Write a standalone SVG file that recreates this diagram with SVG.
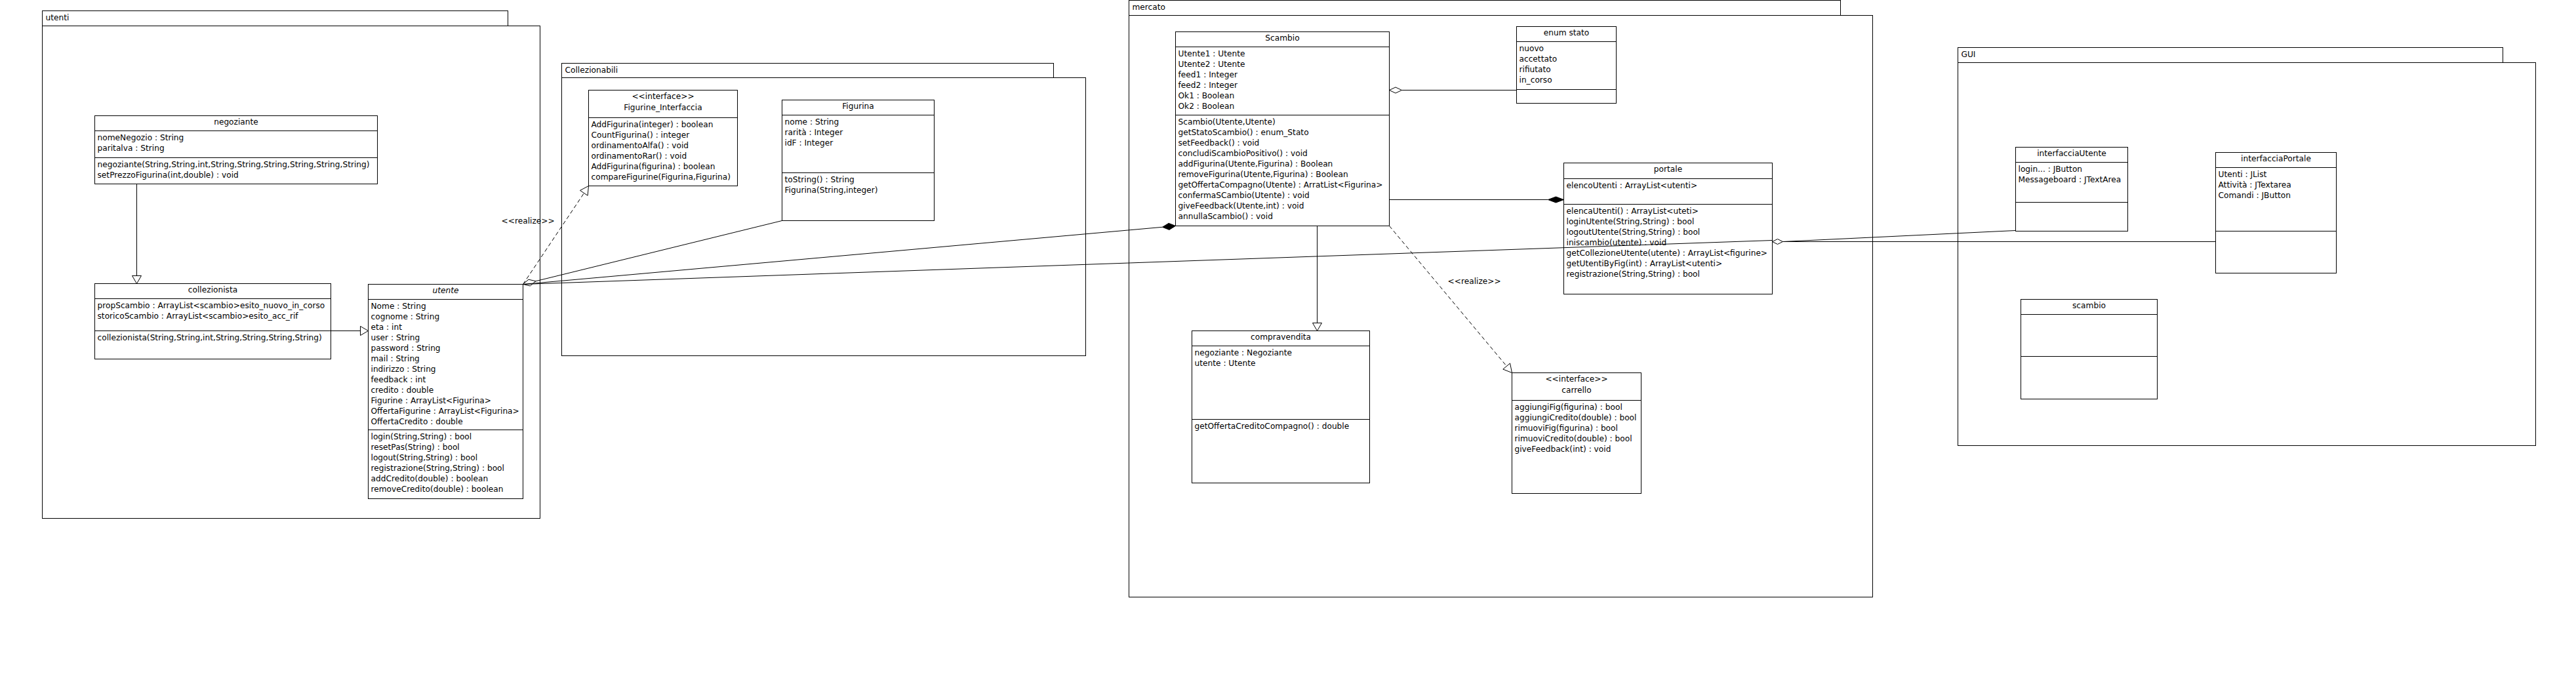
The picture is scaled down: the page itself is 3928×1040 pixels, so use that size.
<svg xmlns="http://www.w3.org/2000/svg" width="3928" height="1040" viewBox="0 0 3928 1040">
<style>
.b{fill:#fff;stroke:#000;stroke-width:1}
.l{stroke:#000;stroke-width:1;fill:none}
.d{stroke:#000;stroke-width:1;fill:none;stroke-dasharray:6 4}
.hd{fill:#fff;stroke:#000;stroke-width:1}
.fd{fill:#000;stroke:#000;stroke-width:1}
text{font-family:"DejaVu Sans","Liberation Sans",sans-serif;font-size:12.2px;fill:#000}
.c{text-anchor:middle}
.i{font-style:italic}
</style>
<rect width="3928" height="1040" fill="#fff"/>
<g transform="translate(0.5,0.5)">
<g id="pkg-utenti"><rect class="b" x="64" y="16" width="710" height="23"/><rect class="b" x="64" y="39" width="759" height="751"/><text x="69" y="30">utenti</text></g>
<g id="pkg-collezionabili"><rect class="b" x="856" y="96" width="750" height="22"/><rect class="b" x="856" y="118" width="799" height="424"/><text x="861" y="110">Collezionabili</text></g>
<g id="pkg-mercato"><rect class="b" x="1721" y="0" width="1085" height="23"/><rect class="b" x="1721" y="23" width="1134" height="887"/><text x="1726" y="14">mercato</text></g>
<g id="pkg-gui"><rect class="b" x="2985" y="72" width="831" height="23"/><rect class="b" x="2985" y="95" width="881" height="584"/><text x="2990" y="86">GUI</text></g>

<g id="negoziante"><rect class="b" x="144" y="176" width="431" height="104"/><path class="l" d="M144 199H575M144 240H575"/>
<text class="c" x="359.5" y="189">negoziante</text>
<text x="148" y="213">nomeNegozio : String</text><text x="148" y="229">paritalva : String</text>
<text x="148" y="254">negoziante(String,String,int,String,String,String,String,String,String)</text><text x="148" y="270">setPrezzoFigurina(int,double) : void</text></g>

<g id="collezionista"><rect class="b" x="144" y="432" width="360" height="115"/><path class="l" d="M144 455H504M144 504H504"/>
<text class="c" x="324" y="445">collezionista</text>
<text x="148" y="469">propScambio : ArrayList&lt;scambio&gt;esito_nuovo_in_corso</text><text x="148" y="485">storicoScambio : ArrayList&lt;scambio&gt;esito_acc_rif</text>
<text x="148" y="518">collezionista(String,String,int,String,String,String,String)</text></g>

<g id="utente"><rect class="b" x="561" y="433" width="236" height="327"/><path class="l" d="M561 456H797M561 655H797"/>
<text class="c i" x="679" y="446">utente</text>
<text x="565" y="470">Nome : String</text><text x="565" y="486">cognome : String</text><text x="565" y="502">eta : int</text><text x="565" y="518">user : String</text><text x="565" y="534">password : String</text><text x="565" y="550">mail : String</text><text x="565" y="566">indirizzo : String</text><text x="565" y="582">feedback : int</text><text x="565" y="598">credito : double</text><text x="565" y="614">Figurine : ArrayList&lt;Figurina&gt;</text><text x="565" y="630">OffertaFigurine : ArrayList&lt;Figurina&gt;</text><text x="565" y="646">OffertaCredito : double</text>
<text x="565" y="669">login(String,String) : bool</text><text x="565" y="685">resetPas(String) : bool</text><text x="565" y="701">logout(String,String) : bool</text><text x="565" y="717">registrazione(String,String) : bool</text><text x="565" y="733">addCredito(double) : boolean</text><text x="565" y="749">removeCredito(double) : boolean</text></g>

<g id="figurine-interfaccia"><rect class="b" x="897" y="137" width="227" height="146"/><path class="l" d="M897 179H1124"/>
<text class="c" x="1010.5" y="150">&lt;&lt;interface&gt;&gt;</text><text class="c" x="1010.5" y="167">Figurine_Interfaccia</text>
<text x="901" y="193">AddFigurina(integer) : boolean</text><text x="901" y="209">CountFigurina() : integer</text><text x="901" y="225">ordinamentoAlfa() : void</text><text x="901" y="241">ordinamentoRar() : void</text><text x="901" y="257">AddFigurina(figurina) : boolean</text><text x="901" y="273">compareFigurine(Figurina,Figurina)</text></g>

<g id="figurina"><rect class="b" x="1192" y="152" width="232" height="184"/><path class="l" d="M1192 175H1424M1192 263H1424"/>
<text class="c" x="1308" y="165">Figurina</text>
<text x="1196" y="189">nome : String</text><text x="1196" y="205">rarità : Integer</text><text x="1196" y="221">idF : Integer</text>
<text x="1196" y="277">toString() : String</text><text x="1196" y="293">Figurina(String,integer)</text></g>

<g id="scambio"><rect class="b" x="1792" y="48" width="326" height="296"/><path class="l" d="M1792 71H2118M1792 175H2118"/>
<text class="c" x="1955" y="61">Scambio</text>
<text x="1796" y="85">Utente1 : Utente</text><text x="1796" y="101">Utente2 : Utente</text><text x="1796" y="117">feed1 : Integer</text><text x="1796" y="133">feed2 : Integer</text><text x="1796" y="149">Ok1 : Boolean</text><text x="1796" y="165">Ok2 : Boolean</text>
<text x="1796" y="189">Scambio(Utente,Utente)</text><text x="1796" y="205">getStatoScambio() : enum_Stato</text><text x="1796" y="221">setFeedback() : void</text><text x="1796" y="237">concludiScambioPositivo() : void</text><text x="1796" y="253">addFigurina(Utente,Figurina) : Boolean</text><text x="1796" y="269">removeFigurina(Utente,Figurina) : Boolean</text><text x="1796" y="285">getOffertaCompagno(Utente) : ArratList&lt;Figurina&gt;</text><text x="1796" y="301">confermaSCambio(Utente) : void</text><text x="1796" y="317">giveFeedback(Utente,int) : void</text><text x="1796" y="333">annullaScambio() : void</text></g>

<g id="enum-stato"><rect class="b" x="2312" y="40" width="152" height="117"/><path class="l" d="M2312 63H2464M2312 136H2464"/>
<text class="c" x="2388" y="53">enum stato</text>
<text x="2316" y="77">nuovo</text><text x="2316" y="93">accettato</text><text x="2316" y="109">rifiutato</text><text x="2316" y="125">in_corso</text></g>

<g id="portale"><rect class="b" x="2384" y="248" width="318" height="200"/><path class="l" d="M2384 272H2702M2384 311H2702"/>
<text class="c" x="2543" y="261">portale</text>
<text x="2388" y="286">elencoUtenti : ArrayList&lt;utenti&gt;</text>
<text x="2388" y="325">elencaUtenti() : ArrayList&lt;uteti&gt;</text><text x="2388" y="341">loginUtente(String,String) : bool</text><text x="2388" y="357">logoutUtente(String,String) : bool</text><text x="2388" y="373">iniscambio(utente) : void</text><text x="2388" y="389">getCollezioneUtente(utente) : ArrayList&lt;figurine&gt;</text><text x="2388" y="405">getUtentiByFig(int) : ArrayList&lt;utenti&gt;</text><text x="2388" y="421">registrazione(String,String) : bool</text></g>

<g id="compravendita"><rect class="b" x="1817" y="504" width="271" height="232"/><path class="l" d="M1817 527H2088M1817 639H2088"/>
<text class="c" x="1952.5" y="517">compravendita</text>
<text x="1821" y="541">negoziante : Negoziante</text><text x="1821" y="557">utente : Utente</text>
<text x="1821" y="653">getOffertaCreditoCompagno() : double</text></g>

<g id="carrello"><rect class="b" x="2305" y="568" width="197" height="184"/><path class="l" d="M2305 610H2502"/>
<text class="c" x="2403.5" y="581">&lt;&lt;interface&gt;&gt;</text><text class="c" x="2403.5" y="598">carrello</text>
<text x="2309" y="624">aggiungiFig(figurina) : bool</text><text x="2309" y="640">aggiungiCredito(double) : bool</text><text x="2309" y="656">rimuoviFig(figurina) : bool</text><text x="2309" y="672">rimuoviCredito(double) : bool</text><text x="2309" y="688">giveFeedback(int) : void</text></g>

<g id="interfaccia-utente"><rect class="b" x="3073" y="224" width="171" height="128"/><path class="l" d="M3073 247H3244M3073 308H3244"/>
<text class="c" x="3158.5" y="237">interfacciaUtente</text>
<text x="3077" y="261">login... : JButton</text><text x="3077" y="277">Messageboard : JTextArea</text></g>

<g id="interfaccia-portale"><rect class="b" x="3378" y="232" width="184" height="184"/><path class="l" d="M3378 255H3562M3378 352H3562"/>
<text class="c" x="3470" y="245">interfacciaPortale</text>
<text x="3382" y="269">Utenti : JList</text><text x="3382" y="285">Attività : JTextarea</text><text x="3382" y="301">Comandi : JButton</text></g>

<g id="scambio-gui"><rect class="b" x="3081" y="456" width="208" height="152"/><path class="l" d="M3081 479H3289M3081 543H3289"/>
<text class="c" x="3185" y="469">scambio</text></g>

<g id="connectors">
<path class="l" d="M208 280V420"/><path class="hd" d="M208 432L201 420H215Z"/>
<path class="l" d="M504 504H549"/><path class="hd" d="M561 504L549 497V511Z"/>
<path class="d" d="M797 433L890 294"/><path class="hd" d="M897 283L895.6 297.7L884 289.9Z"/>
<text x="764" y="340">&lt;&lt;realize&gt;&gt;</text>
<path class="l" d="M1192 336L797 433"/>
<path class="hd" d="M797 433L805.5 425.7L816.4 428.2L807.9 435.5Z"/>
<path class="l" d="M1772 345.8L797 433"/><path class="fd" d="M1792 344L1781.6 339.9L1772 345.8L1782.4 349.9Z"/>
<path class="l" d="M797 433L2702 366"/>
<path class="hd" d="M2702 368L2710 364L2718 368L2710 372Z"/>
<path class="l" d="M2718 368H3378"/>
<path class="l" d="M2718 368L3073 351"/>
<path class="hd" d="M2118 137L2127.5 132.5L2137 137L2127.5 141.5Z"/><path class="l" d="M2137 137H2312"/>
<path class="l" d="M2118 304H2360"/><path class="fd" d="M2384 304L2372 299.5L2360 304L2372 308.5Z"/>
<path class="l" d="M2008 344V492"/><path class="hd" d="M2008 504L2001 492H2015Z"/>
<path class="d" d="M2118 344L2297 558"/><path class="hd" d="M2305 568L2302.1 553.5L2291.3 562.5Z"/>
<text x="2207" y="432">&lt;&lt;realize&gt;&gt;</text>
</g>
</g>
</svg>
